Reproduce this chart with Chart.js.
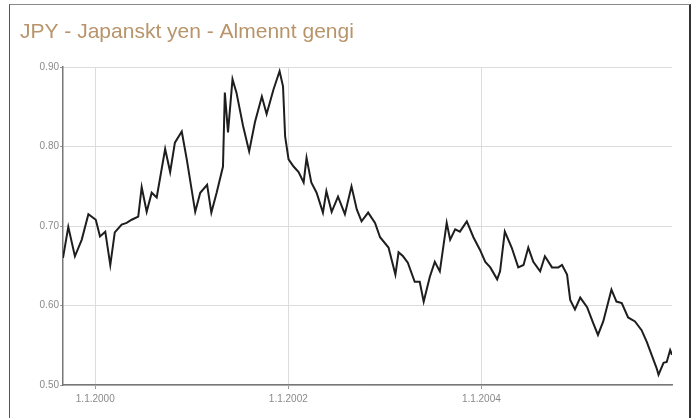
<!DOCTYPE html>
<html>
<head>
<meta charset="utf-8">
<script src="https://cdn.jsdelivr.net/npm/chart.js@4.4.1/dist/chart.umd.min.js"></script>
<style>
  html, body { margin: 0; padding: 0; background: #fff; }
  #wrap { position: relative; width: 696px; height: 418px; }
  #frame {
    position: absolute; left: 9px; top: 4px; width: 679px; height: 420px;
    border-top: 1px solid #8a8a8a; border-left: 1px solid #555; border-right: 2px solid #333;
    pointer-events: none;
  }
</style>
</head>
<body>
<div id="wrap">
  <canvas id="chart" width="696" height="418"></canvas>
  <div id="frame"></div>
</div>
<script>
const dates = [
  '1999-09-01', '1999-09-21', '1999-10-16', '1999-11-11', '1999-12-06',
  '2000-01-03', '2000-01-19', '2000-02-08', '2000-02-27', '2000-03-15',
  '2000-04-10', '2000-04-29', '2000-05-18', '2000-06-12', '2000-06-25',
  '2000-07-14', '2000-08-02', '2000-08-21', '2000-09-22', '2000-10-11',
  '2000-10-29', '2000-11-24', '2000-12-13', '2001-01-14', '2001-02-02',
  '2001-02-28', '2001-03-16', '2001-04-05', '2001-04-29', '2001-05-06',
  '2001-05-18', '2001-06-04', '2001-06-19', '2001-07-14', '2001-08-06',
  '2001-08-28', '2001-09-23', '2001-10-11', '2001-11-06', '2001-11-29',
  '2001-12-12', '2001-12-20', '2002-01-02', '2002-01-21', '2002-02-09',
  '2002-02-28', '2002-03-11', '2002-03-29', '2002-04-18', '2002-05-12',
  '2002-05-25', '2002-06-14', '2002-07-08', '2002-08-03', '2002-08-28',
  '2002-09-17', '2002-10-05', '2002-10-30', '2002-11-25', '2002-12-14',
  '2003-01-15', '2003-02-10', '2003-02-22', '2003-03-11', '2003-03-29',
  '2003-04-24', '2003-05-13', '2003-05-28', '2003-06-20', '2003-07-09',
  '2003-07-28', '2003-08-23', '2003-09-05', '2003-09-24', '2003-10-12',
  '2003-11-07', '2003-12-02', '2003-12-27', '2004-01-16', '2004-02-04',
  '2004-03-01', '2004-03-12', '2004-03-30', '2004-04-25', '2004-05-20',
  '2004-06-09', '2004-06-27', '2004-07-16', '2004-08-11', '2004-08-29',
  '2004-09-25', '2004-10-19', '2004-11-02', '2004-11-21', '2004-12-03',
  '2004-12-21', '2005-01-10', '2005-02-05', '2005-02-28', '2005-03-18',
  '2005-04-07', '2005-05-08', '2005-05-27', '2005-06-16', '2005-07-10',
  '2005-08-05', '2005-08-30', '2005-09-19', '2005-10-07', '2005-10-26',
  '2005-11-02', '2005-11-21', '2005-12-03', '2005-12-16', '2005-12-23'
];

// JPY rate (ISK per yen)
const rates = [
  0.660, 0.699, 0.662, 0.683, 0.715,
  0.708, 0.687, 0.693, 0.651, 0.692,
  0.702, 0.704, 0.708, 0.712, 0.749,
  0.718, 0.742, 0.736, 0.797, 0.768,
  0.805, 0.819, 0.784, 0.718, 0.742,
  0.752, 0.717, 0.742, 0.775, 0.868,
  0.818, 0.885, 0.868, 0.826, 0.794,
  0.831, 0.863, 0.841, 0.872, 0.895,
  0.876, 0.813, 0.784, 0.775, 0.768,
  0.755, 0.786, 0.755, 0.742, 0.717,
  0.744, 0.718, 0.737, 0.715, 0.750,
  0.721, 0.706, 0.717, 0.704, 0.686,
  0.673, 0.639, 0.667, 0.662, 0.654,
  0.630, 0.630, 0.605, 0.636, 0.655,
  0.643, 0.704, 0.683, 0.696, 0.693,
  0.706, 0.686, 0.670, 0.655, 0.648,
  0.633, 0.643, 0.693, 0.673, 0.648,
  0.651, 0.673, 0.655, 0.643, 0.662,
  0.648, 0.648, 0.651, 0.639, 0.607,
  0.595, 0.610, 0.598, 0.578, 0.563,
  0.580, 0.620, 0.605, 0.603, 0.585,
  0.580, 0.569, 0.554, 0.538, 0.521,
  0.513, 0.528, 0.529, 0.544, 0.538
];

const xTickYears = [2000, 2002, 2004];
const yTicks = [0.50, 0.60, 0.70, 0.80, 0.90];
const titleText = 'JPY - Japanskt yen - Almennt gengi';

// date string -> decimal year
function toYear(s) {
  const [y, m, d] = s.split('-').map(Number);
  const start = Date.UTC(y, 0, 1);
  const end = Date.UTC(y + 1, 0, 1);
  return y + (Date.UTC(y, m - 1, d) - start) / (end - start);
}

const points = dates.map((d, i) => ({ x: toYear(d), y: rates[i] }));

new Chart(document.getElementById('chart'), {
  type: 'line',
  data: {
    datasets: [{
      data: points,
      borderColor: '#1e1e1e',
      borderWidth: 2,
      pointRadius: 0,
      tension: 0,
      fill: false
    }]
  },
  options: {
    responsive: false,
    animation: false,
    layout: { padding: { left: 20, right: 24, top: 0, bottom: 0 } },
    plugins: {
      legend: { display: false },
      tooltip: { enabled: false },
      title: {
        display: true,
        text: titleText,
        align: 'start',
        color: '#b8946a',
        font: { family: 'Liberation Sans, Arial', size: 21, weight: 'normal' },
        padding: { top: 20, bottom: 22 }
      }
    },
    scales: {
      x: {
        type: 'linear',
        min: toYear(dates[0]),
        max: toYear(dates[dates.length - 1]),
        afterBuildTicks: axis => { axis.ticks = xTickYears.map(v => ({ value: v })); },
        afterFit: axis => { axis.height = 33; },
        ticks: {
          callback: v => '1.1.' + v,
          color: '#8a8a8a',
          font: { family: 'Liberation Sans, Arial', size: 10 },
          padding: 4,
          maxRotation: 0
        },
        grid: { color: '#dcdcdc', tickLength: 4, tickColor: '#999' },
        border: { color: '#777', width: 1.5 }
      },
      y: {
        min: 0.5,
        max: 0.9,
        afterBuildTicks: axis => { axis.ticks = yTicks.map(v => ({ value: v })); },
        afterFit: axis => { axis.width = 43; },
        ticks: {
          callback: v => v.toFixed(2),
          color: '#8a8a8a',
          font: { family: 'Liberation Sans, Arial', size: 10 },
          padding: 1
        },
        grid: { color: '#dcdcdc', tickLength: 3, tickColor: '#999' },
        border: { color: '#777', width: 1.5 }
      }
    }
  }
});
</script>
</body>
</html>
